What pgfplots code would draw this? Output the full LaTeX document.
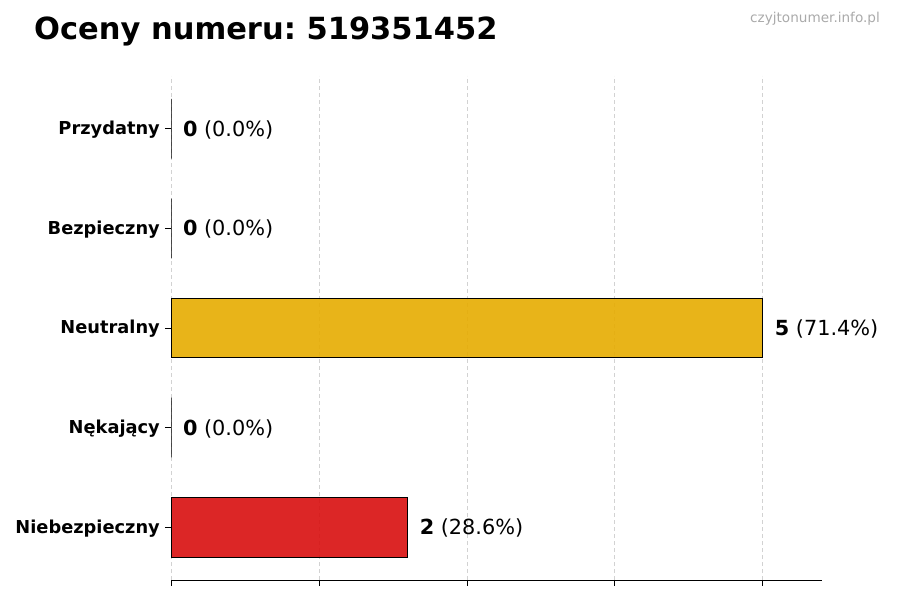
\documentclass[border=0pt]{standalone}
\usepackage{pgfplots}
\pgfplotsset{compat=1.18}
\usepackage{fontspec}
\setmainfont{DejaVu Sans}
\definecolor{barred}{RGB}{216,14,14}
\definecolor{baryellow}{RGB}{230,172,0}
\definecolor{wmgray}{HTML}{AAAAAA}
\frenchspacing

\begin{document}
\begin{tikzpicture}[x=1pt,y=1pt]
% page frame 900 x 600
\path (0,0) rectangle (900,600);
\node[anchor=base west, inner sep=0pt, font=\fontsize{30.5}{34}\selectfont\bfseries] at (34,560) {Oceny numeru: 519351452};
\node[anchor=base east, inner sep=0pt, text=wmgray, font=\fontsize{13.6}{16}\selectfont] at (880,577) {czyjtonumer.info.pl};

\begin{axis}[
    at={(171pt,20pt)}, anchor=south west,
    width=651pt, height=504pt, scale only axis,
    xmin=0, xmax=5.5, ymin=-0.53, ymax=4.53,
    xbar, bar width=0.6, bar shift=0pt,
    axis x line*=bottom, axis y line*=left,
    y axis line style={draw=none},
    x axis line style={line width=1pt},
    xtick={0,1.25,2.5,3.75,5}, xticklabels={},
    ytick={0,1,2,3,4},
    yticklabels={Niebezpieczny,Nękający,Neutralny,Bezpieczny,Przydatny},
    yticklabel style={font=\fontsize{17.8}{20}\selectfont\bfseries, inner sep=0pt, xshift=-5pt, yshift=-1pt},
    tick align=outside, major tick length=6pt,
    tick style={black, line width=0.8pt},
    xmajorgrids, major grid style={gray!35, line width=0.8pt, dash pattern=on 4pt off 3pt},
    clip=false,
]
\addplot[fill=barred, fill opacity=0.9, draw=black, line width=0.9pt] coordinates {(2,0)};
\addplot[fill=baryellow, fill opacity=0.9, draw=black, line width=0.9pt] coordinates {(5,2)};
\addplot[fill=gray, draw=black, line width=0.9pt] coordinates {(0,1) (0,3) (0,4)};

\begin{scope}[every node/.style={anchor=west, inner sep=0pt, yshift=-1pt, font=\fontsize{20.8}{24}\selectfont}]
\node at (axis cs:2.1,0) {\textbf{2} (28.6\%)};
\node at (axis cs:0.1,1) {\textbf{0} (0.0\%)};
\node at (axis cs:5.1,2) {\textbf{5} (71.4\%)};
\node at (axis cs:0.1,3) {\textbf{0} (0.0\%)};
\node at (axis cs:0.1,4) {\textbf{0} (0.0\%)};
\end{scope}
\end{axis}
\end{tikzpicture}
\end{document}
